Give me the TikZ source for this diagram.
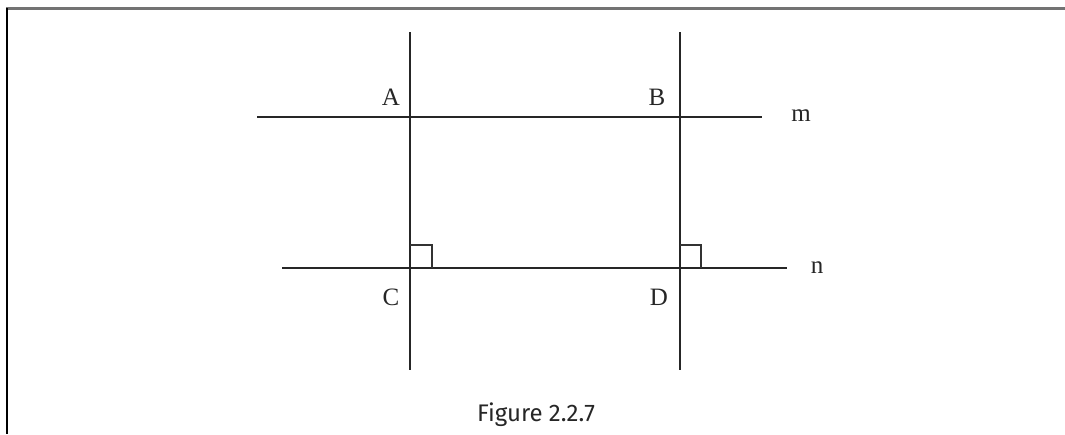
\documentclass[tikz,border=0pt]{standalone}
\usepackage{fontspec}
\setmainfont{Liberation Serif}
\newfontfamily\capfont{Fira Sans}
\begin{document}
\begin{tikzpicture}[x=1pt,y=-1pt,
  ln/.style={line width=2.8pt,color=black!85},
  lbl/.style={font=\fontsize{25}{27}\selectfont,text=black!85,inner sep=0pt},
  ra/.style={line width=2.2pt,color=black!80}]
\useasboundingbox (0,0) rectangle (1065,434);
\draw[line width=3pt,color=black!55] (6,8) -- (1065,8);
\draw[line width=2.5pt,color=black] (7,8) -- (7,434);
% lines
\coordinate (a1) at (410,32); \coordinate (a2) at (410,370);
\coordinate (b1) at (680,32); \coordinate (b2) at (680,370);
\coordinate (m1) at (257,117); \coordinate (m2) at (762,117);
\coordinate (n1) at (282,268); \coordinate (n2) at (787,268);
\draw[ln] (a1) -- (a2);
\draw[ln] (b1) -- (b2);
\draw[ln] (m1) -- (m2);
\draw[ln] (n1) -- (n2);
\coordinate (C) at (410,268);
\coordinate (D) at (680,268);
\draw[ra] (C) ++(0,-23) -- ++(22,0) -- ++(0,23);
\draw[ra] (D) ++(0,-23) -- ++(21,0) -- ++(0,23);
\node[lbl] (lA) at (391,97) {A};
\node[lbl] (lB) at (657,97) {B};
\node[lbl] (lm) at (801,116) {m};
\node[lbl] (lC) at (391,297) {C};
\node[lbl] (lD) at (659,297) {D};
\node[lbl] (ln) at (817,268) {n};
\node[font=\capfont\fontsize{24}{26}\selectfont,text=black!85,inner sep=0pt] (cap) at (536,415) {Figure 2.2.7};
\end{tikzpicture}
\end{document}
